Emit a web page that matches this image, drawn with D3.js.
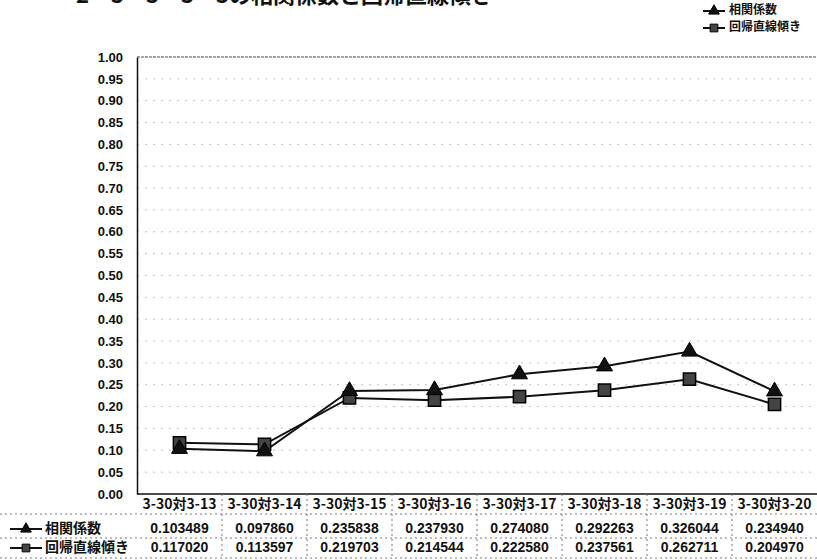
<!DOCTYPE html>
<html>
<head>
<meta charset="utf-8">
<script src="https://cdn.jsdelivr.net/npm/d3@7"></script>
<style>
  body { margin: 0; background: #fff; }
  text { font-family: "Liberation Sans", "Noto Sans CJK JP", sans-serif; font-weight: bold; fill: #111; }
  .jp { font-family: "Noto Sans CJK JP", sans-serif; }
</style>
</head>
<body>
<script>
// categories and series
const categories = ["3-30対3-13", "3-30対3-14", "3-30対3-15", "3-30対3-16",
                    "3-30対3-17", "3-30対3-18", "3-30対3-19", "3-30対3-20"];
const seriesNames = ["相関係数", "回帰直線傾き"];
const corr = [0.103489, 0.097860, 0.235838, 0.237930, 0.274080, 0.292263, 0.326044, 0.234940];
const slope = [0.117020, 0.113597, 0.219703, 0.214544, 0.222580, 0.237561, 0.262711, 0.204970];
const corrLabels = ["0.103489", "0.097860", "0.235838", "0.237930", "0.274080", "0.292263", "0.326044", "0.234940"];
const slopeLabels = ["0.117020", "0.113597", "0.219703", "0.214544", "0.222580", "0.237561", "0.262711", "0.204970"];
const yTicks = d3.range(0, 1.0001, 0.05);

const W = 817, H = 560;
const plot = {left: 137, right: 817, top: 57, bottom: 494};

const svg = d3.select('body').append('svg')
  .attr('width', W).attr('height', H);

const x = d3.scaleBand().domain(categories).range([plot.left, plot.right]);
const y = d3.scaleLinear().domain([0, 1]).range([plot.bottom, plot.top]);

// title, mostly cut off at the top of the scan
svg.append('text')
  .attr('class', 'jp')
  .attr('x', 76).attr('y', 3)
  .attr('font-size', 22)
  .text('2ー3ー3ー3ー3の相関係数と回帰直線傾き');

// dotted gridlines
svg.append('g')
  .selectAll('line')
  .data(yTicks.slice(1))
  .join('line')
  .attr('x1', plot.left).attr('x2', plot.right)
  .attr('y1', d => y(d)).attr('y2', d => y(d))
  .attr('stroke', '#aaa')
  .attr('stroke-width', 1)
  .attr('stroke-dasharray', '2,6')
  .attr('opacity', 0.7);

// y axis
const yAxis = d3.axisLeft(y)
  .tickValues(yTicks)
  .tickFormat(d3.format('.2f'))
  .tickSize(0)
  .tickPadding(14);
const yg = svg.append('g')
  .attr('transform', `translate(${plot.left},0)`)
  .call(yAxis);
yg.select('.domain').attr('stroke', '#111').attr('stroke-width', 1.5);
yg.selectAll('text').attr('font-size', 13).attr('font-weight', 'bold')
  .style('font-family', '"Liberation Sans", sans-serif');

// top and bottom border of plot
svg.append('line')
  .attr('x1', plot.left).attr('x2', plot.right)
  .attr('y1', plot.top).attr('y2', plot.top)
  .attr('stroke', '#555').attr('stroke-width', 1).attr('stroke-dasharray', '3,1');
svg.append('line')
  .attr('x1', plot.left).attr('x2', plot.right)
  .attr('y1', plot.bottom).attr('y2', plot.bottom)
  .attr('stroke', '#111').attr('stroke-width', 1.5);

// series lines
const line = d3.line()
  .x((d, i) => x(categories[i]) + x.bandwidth() / 2)
  .y(d => y(d));

[corr, slope].forEach(vals => {
  svg.append('path')
    .datum(vals)
    .attr('d', line)
    .attr('fill', 'none')
    .attr('stroke', '#111')
    .attr('stroke-width', 2);
});

const tri = d3.symbol().type(d3.symbolTriangle).size(110);
const sq = d3.symbol().type(d3.symbolSquare).size(150);

svg.append('g').selectAll('path')
  .data(slope)
  .join('path')
  .attr('d', sq)
  .attr('transform', (d, i) => `translate(${x(categories[i]) + x.bandwidth() / 2},${y(d)})`)
  .attr('fill', '#444')
  .attr('stroke', '#000')
  .attr('stroke-width', 1.5);

svg.append('g').selectAll('path')
  .data(corr)
  .join('path')
  .attr('d', tri)
  .attr('transform', (d, i) => `translate(${x(categories[i]) + x.bandwidth() / 2},${y(d)})`)
  .attr('fill', '#111')
  .attr('stroke', '#000')
  .attr('stroke-width', 1);

// data table below
const catY = 505;
const rowY = [529, 548];
const tableTop = 514, tableMid = 538, tableBottom = 558;

svg.append('g').selectAll('text')
  .data(categories)
  .join('text')
  .attr('x', d => x(d) + x.bandwidth() / 2)
  .attr('y', catY)
  .attr('text-anchor', 'middle')
  .attr('dominant-baseline', 'middle')
  .attr('font-size', 14)
  .attr('font-weight', 'normal')
  .style('font-family', '"Noto Sans CJK JP", sans-serif')
  .text(d => d);

[tableTop, tableMid, tableBottom].forEach(yy => {
  svg.append('line')
    .attr('x1', 0).attr('x2', plot.right)
    .attr('y1', yy).attr('y2', yy)
    .attr('stroke', '#777').attr('stroke-width', 1)
    .attr('stroke-dasharray', '2,3');
});

svg.append('g').selectAll('line')
  .data(categories.slice(1))
  .join('line')
  .attr('x1', d => x(d)).attr('x2', d => x(d))
  .attr('y1', plot.bottom).attr('y2', tableBottom)
  .attr('stroke', '#777').attr('stroke-width', 1)
  .attr('stroke-dasharray', '2,3');

[corrLabels, slopeLabels].forEach((labels, r) => {
  svg.append('g').selectAll('text')
    .data(labels)
    .join('text')
    .attr('x', (d, i) => x(categories[i]) + x.bandwidth() / 2)
    .attr('y', rowY[r])
    .attr('text-anchor', 'middle')
    .attr('dominant-baseline', 'middle')
    .attr('font-size', 14)
    .text(d => d);
});

// legend keys
function legendKey(g, cx, cy, r, w) {
  g.append('line')
    .attr('x1', cx - w / 2).attr('x2', cx + w / 2)
    .attr('y1', cy).attr('y2', cy)
    .attr('stroke', '#111').attr('stroke-width', 2);
  g.append('path')
    .attr('d', r === 0 ? d3.symbol().type(d3.symbolTriangle).size(50)
                       : d3.symbol().type(d3.symbolSquare).size(60))
    .attr('transform', `translate(${cx},${cy})`)
    .attr('fill', r === 0 ? '#111' : '#444')
    .attr('stroke', '#000');
}

seriesNames.forEach((name, r) => {
  const g = svg.append('g');
  legendKey(g, 26, rowY[r], r, 32);
  g.append('text')
    .attr('class', 'jp')
    .attr('x', 45).attr('y', rowY[r])
    .attr('dominant-baseline', 'middle')
    .attr('font-size', 14)
    .text(name);
});

// top right legend
seriesNames.forEach((name, r) => {
  const g = svg.append('g');
  const cy = 11 + r * 17;
  legendKey(g, 714, cy, r, 22);
  g.append('text')
    .attr('class', 'jp')
    .attr('x', 729).attr('y', cy)
    .attr('dominant-baseline', 'middle')
    .attr('font-size', 12)
    .text(name);
});
</script>
</body>
</html>
